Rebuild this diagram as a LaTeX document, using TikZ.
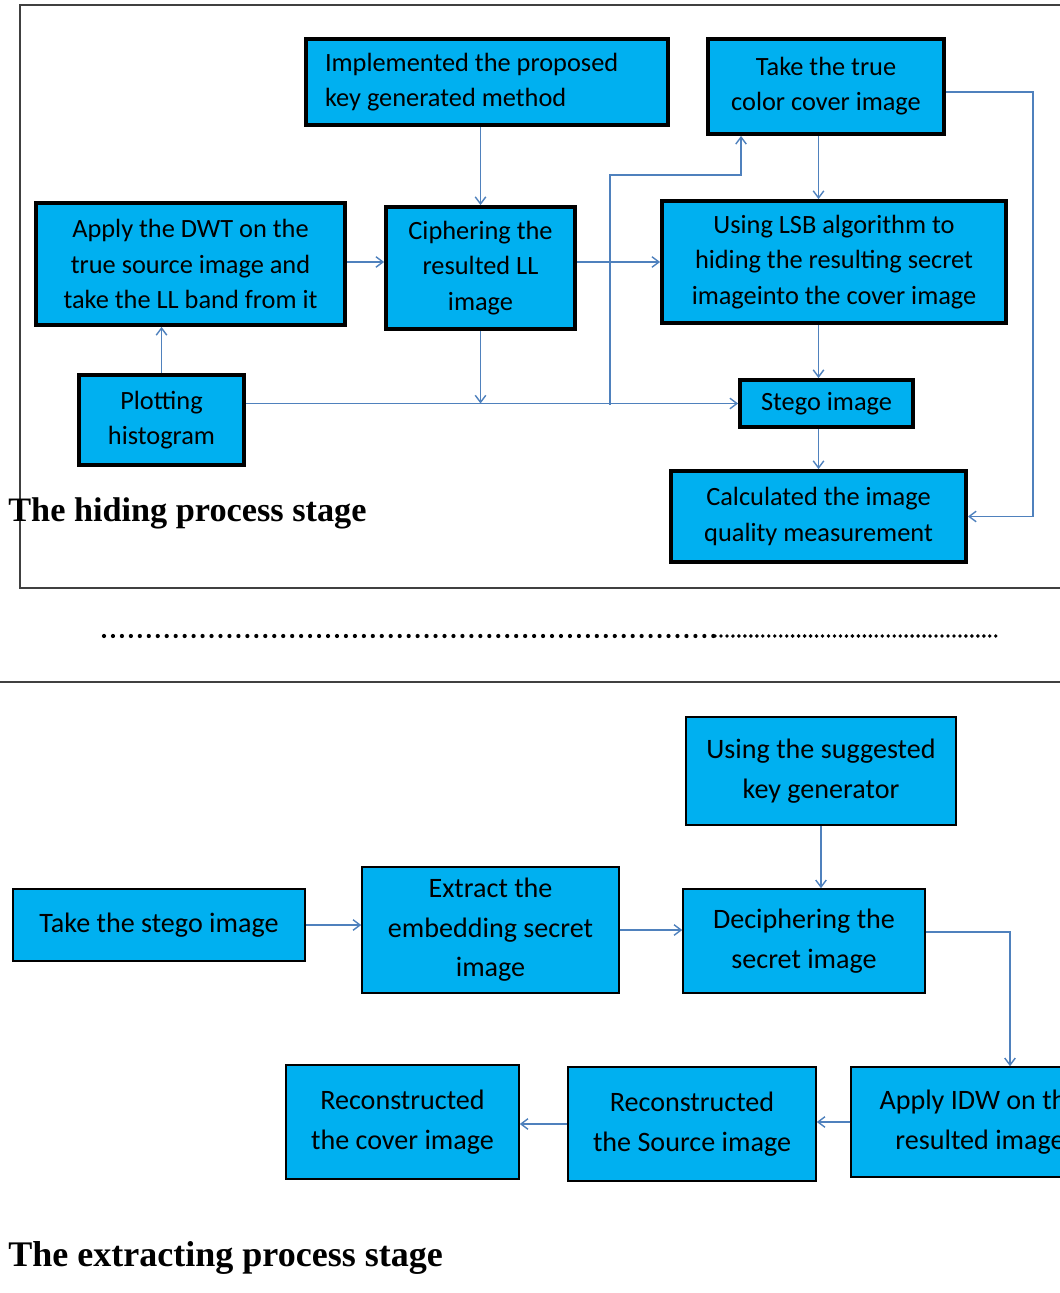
\documentclass[tikz,border=0pt]{standalone}
\usepackage{fontspec}
\setmainfont{Carlito}
\newfontfamily\stagefont{Liberation Serif}
\usetikzlibrary{arrows.meta, positioning}
\definecolor{boxblue}{RGB}{0,176,240}
\definecolor{linkblue}{RGB}{79,129,189}
\definecolor{framegray}{RGB}{64,64,64}

\begin{document}
\begin{tikzpicture}[
  x=0.02cm, y=-0.02cm,
  hidebox/.style={
    rectangle, draw=black, line width=2.2pt,
    fill=boxblue, align=center, inner sep=2pt,
    font=\fontsize{15}{20}\selectfont
  },
  extbox/.style={
    rectangle, draw=black, line width=0.9pt,
    fill=boxblue, align=center, inner sep=2pt,
    font=\fontsize{16}{22.5}\selectfont
  },
  link/.style={-{Straight Barb[length=4pt, width=6pt]}, draw=linkblue, line width=0.8pt},
  stagetitle/.style={anchor=base west, inner sep=0pt, font=\stagefont\bfseries}
]
  \useasboundingbox (0,0) rectangle (1060,1293);
  \clip (0,0) rectangle (1060,1293);

  % --- Frame of the hiding stage ---
  \draw[framegray, line width=1pt] (20,5) rectangle (1080,588);

  % --- Hiding stage boxes ---
  \node[hidebox, align=flush left, text width=6.48cm, minimum width=7.24cm, minimum height=1.72cm] (keygen) at (487,82)
    {Implemented the proposed\\key generated method};
  \node[hidebox, minimum width=4.72cm, minimum height=1.9cm] (cover) at (826,86.5)
    {Take the true\\color cover image};
  \node[hidebox, minimum width=6.18cm, minimum height=2.44cm] (dwt) at (190.5,264)
    {Apply the DWT on the\\true source image and\\take the LL band from it};
  \node[hidebox, minimum width=3.78cm, minimum height=2.44cm] (cipher) at (480.5,268)
    {Ciphering the\\resulted LL\\image};
  \node[hidebox, minimum width=6.88cm, minimum height=2.44cm] (lsb) at (834,262)
    {Using LSB algorithm to\\hiding the resulting secret\\imageinto the cover image};
  \node[hidebox, minimum width=3.3cm, minimum height=1.8cm] (hist) at (161.5,420)
    {Plotting\\histogram};
  \node[hidebox, minimum width=3.46cm, minimum height=0.94cm] (stego) at (826.5,403.5)
    {Stego image};
  \node[hidebox, minimum width=5.9cm, minimum height=1.82cm] (quality) at (818.5,516.5)
    {Calculated the image\\quality measurement};
  \node[stagetitle, font=\stagefont\bfseries\fontsize{19.5}{22}\selectfont] (hidetitle) at (8,521)
    {The hiding process stage};

  % --- Hiding stage links ---
  \coordinate (split) at (610,405);
  \coordinate (bend)  at (741,175);
  \coordinate (rail)  at (1033,92);
  \draw[link] (keygen.south -| cipher.north) -- (cipher.north);
  \draw[link] (dwt.east |- lsb.west) -- (dwt.east |- lsb.west -| cipher.west);
  \draw[link] (cipher.east |- lsb.west) -- (lsb.west);
  \draw[link] (cipher.south) -- (cipher.south |- stego.west);
  \draw[link] (hist.north) -- (hist.north |- dwt.south);
  \draw[link] (hist.east |- stego.west) -- (stego.west);
  \draw[link] (split) |- (bend) -- (bend |- cover.south);
  \draw[link] (cover.south -| quality.north) -- (quality.north |- lsb.north);
  \draw[link] (lsb.south -| quality.north) -- (quality.north |- stego.north);
  \draw[link] (stego.south -| quality.north) -- (quality.north);
  \draw[link] (cover.east |- rail) -- (rail) -- (rail |- quality.east) -- (quality.east);

  % --- Separators ---
  \draw[line width=2.4pt, line cap=round, dash pattern=on 0pt off 5.1pt] (104,636) -- (715,636);
  \draw[line width=2.2pt, line cap=round, dash pattern=on 0pt off 3.4pt] (715,636) -- (1000,636);
  \draw[framegray, line width=1.1pt] (0,682) -- (1060,682);

  % --- Extracting stage boxes ---
  \node[extbox, minimum width=5.4cm, minimum height=2.16cm] (userkey) at (821,771)
    {Using the suggested\\key generator};
  \node[extbox, minimum width=5.84cm, minimum height=1.44cm] (stegoin) at (159,925)
    {Take the stego image};
  \node[extbox, minimum width=5.14cm, minimum height=2.52cm] (extract) at (490.5,930)
    {Extract the\\embedding secret\\image};
  \node[extbox, minimum width=4.84cm, minimum height=2.08cm] (decipher) at (804,941)
    {Deciphering the\\secret image};
  \node[extbox, minimum width=5.16cm, minimum height=2.2cm] (idw) at (980,1122)
    {Apply IDW on the\\resulted image};
  \node[extbox, minimum width=4.96cm, minimum height=2.28cm] (recsrc) at (692,1124)
    {Reconstructed\\the Source image};
  \node[extbox, minimum width=4.66cm, minimum height=2.28cm] (reccov) at (402.5,1122)
    {Reconstructed\\the cover image};
  \node[stagetitle, font=\stagefont\bfseries\fontsize{20.5}{23}\selectfont] (extracttitle) at (8,1266)
    {The extracting process stage};

  % --- Extracting stage links ---
  \coordinate (drop) at (1010,932);
  \draw[link] (stegoin.east) -- (stegoin.east -| extract.west);
  \draw[link] (extract.east) -- (extract.east -| decipher.west);
  \draw[link] (userkey.south) -- (userkey.south |- decipher.north);
  \draw[link] (decipher.east |- drop) -- (drop) -- (drop |- idw.north);
  \draw[link] (idw.west) -- (idw.west -| recsrc.east);
  \draw[link] (recsrc.west) -- (recsrc.west -| reccov.east);
\end{tikzpicture}
\end{document}
